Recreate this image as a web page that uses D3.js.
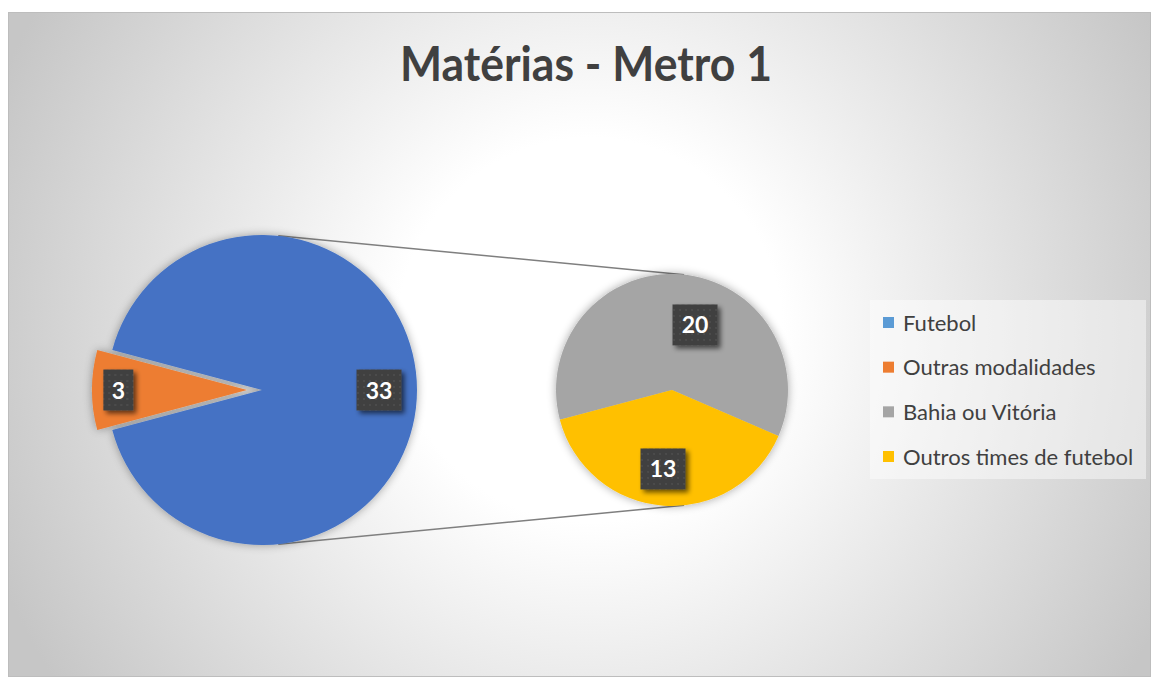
<!DOCTYPE html>
<html lang="pt">
<head>
<meta charset="utf-8">
<title>Matérias - Metro 1</title>
<script src="https://cdn.jsdelivr.net/npm/d3@7"></script>
<style>
  body { margin: 0; background: #fff; }
  text { font-family: Lato, "Open Sans", sans-serif; }
</style>
</head>
<body>
<script>
// dados
var titleText = "Matérias - Metro 1";
var mainCategories = ["Futebol", "Outras modalidades"];
var mainValues = [33, 3];
var subCategories = ["Bahia ou Vitória", "Outros times de futebol"];
var subValues = [20, 13];
var legendLabels = ["Futebol", "Outras modalidades", "Bahia ou Vitória", "Outros times de futebol"];

var width = 1151, height = 677;
var deg = Math.PI / 180;

var mainColors = ["#4472C4", "#ED7D31"];
var subColors = ["#A5A5A5", "#FFC000"];
var legendColors = ["#5B9BD5", "#ED7D31", "#A5A5A5", "#FFC000"];

var svg = d3.select("body").append("svg")
    .attr("width", width)
    .attr("height", height);

var defs = svg.append("defs");

// fundo com gradiente radial
var grad = defs.append("radialGradient")
    .attr("id", "bg")
    .attr("gradientUnits", "userSpaceOnUse")
    .attr("cx", 590).attr("cy", 330).attr("r", 640);
grad.append("stop").attr("offset", "0").attr("stop-color", "#ffffff");
grad.append("stop").attr("offset", "0.3").attr("stop-color", "#ffffff");
grad.append("stop").attr("offset", "1").attr("stop-color", "#c6c6c6");

// sombra suave das pizzas
var glow = defs.append("filter").attr("id", "glow")
    .attr("x", "-20%").attr("y", "-20%").attr("width", "140%").attr("height", "140%");
glow.append("feGaussianBlur").attr("in", "SourceAlpha").attr("stdDeviation", 5).attr("result", "b");
glow.append("feComponentTransfer").attr("in", "b").attr("result", "b2")
    .append("feFuncA").attr("type", "linear").attr("slope", 0.35);
var gm = glow.append("feMerge");
gm.append("feMergeNode").attr("in", "b2");
gm.append("feMergeNode").attr("in", "SourceGraphic");

// sombra dos rótulos
var shadow = defs.append("filter").attr("id", "shadow")
    .attr("x", "-30%").attr("y", "-30%").attr("width", "170%").attr("height", "170%");
shadow.append("feGaussianBlur").attr("in", "SourceAlpha").attr("stdDeviation", 2.5).attr("result", "b");
shadow.append("feOffset").attr("in", "b").attr("dx", 3).attr("dy", 3).attr("result", "o");
shadow.append("feComponentTransfer").attr("in", "o").attr("result", "o2")
    .append("feFuncA").attr("type", "linear").attr("slope", 0.6);
var sm = shadow.append("feMerge");
sm.append("feMergeNode").attr("in", "o2");
sm.append("feMergeNode").attr("in", "SourceGraphic");

// padrão pontilhado dos rótulos
var pat = defs.append("pattern").attr("id", "dots")
    .attr("patternUnits", "userSpaceOnUse").attr("width", 6).attr("height", 6);
pat.append("rect").attr("width", 6).attr("height", 6).attr("fill", "#404040");
pat.append("circle").attr("cx", 3).attr("cy", 3).attr("r", 1.1).attr("fill", "#4e4e4e");

svg.append("rect")
    .attr("x", 8.5).attr("y", 12.5)
    .attr("width", width - 9).attr("height", height - 13)
    .attr("fill", "url(#bg)")
    .attr("stroke", "#bdbdbd");

// título
svg.append("text")
    .attr("x", 586).attr("y", 81)
    .attr("text-anchor", "middle")
    .attr("font-size", 48)
    .attr("font-weight", "bold")
    .attr("fill", "#404040")
    .attr("textLength", 372)
    .attr("lengthAdjust", "spacingAndGlyphs")
    .text(titleText);

// geometria
var main = { cx: 262, cy: 390, r: 155 };
var sub = { cx: 672, cy: 390, r: 116 };
var explode = [0, 15];
var lineAngle = 6 * deg;

var mainPie = d3.pie().sort(null)
    .startAngle(-75 * deg).endAngle(285 * deg);
var subPie = d3.pie().sort(null)
    .startAngle(-104.8 * deg).endAngle(255.2 * deg);

var mainArcs = mainPie(mainValues);
var subArcs = subPie(subValues);

var mainArc = d3.arc().innerRadius(0).outerRadius(main.r);
var subArc = d3.arc().innerRadius(0).outerRadius(sub.r);

function offset(d, dist) {
    var a = (d.startAngle + d.endAngle) / 2;
    return [Math.sin(a) * dist, -Math.cos(a) * dist];
}

// linhas de ligação
var lineG = svg.append("g");
[-1, 1].forEach(function (s) {
    lineG.append("line")
        .attr("x1", main.cx + Math.sin(lineAngle) * main.r)
        .attr("y1", main.cy + s * Math.cos(lineAngle) * main.r)
        .attr("x2", sub.cx + Math.sin(lineAngle) * sub.r)
        .attr("y2", sub.cy + s * Math.cos(lineAngle) * sub.r)
        .attr("stroke", "#7f7f7f")
        .attr("stroke-width", 1.5);
});

var mainG = svg.append("g")
    .attr("transform", "translate(" + main.cx + "," + main.cy + ")")
    .attr("filter", "url(#glow)");
mainG.selectAll("path")
    .data(mainArcs)
    .enter().append("path")
    .attr("transform", function (d, i) { return "translate(" + offset(d, explode[i]) + ")"; })
    .attr("d", mainArc)
    .attr("fill", function (d, i) { return mainColors[i]; });

var subG = svg.append("g")
    .attr("transform", "translate(" + sub.cx + "," + sub.cy + ")")
    .attr("filter", "url(#glow)");
subG.selectAll("path")
    .data(subArcs)
    .enter().append("path")
    .attr("d", subArc)
    .attr("fill", function (d, i) { return subColors[i]; });

// rótulos de dados
var mainLabelR = [0.755, 0.83];
var subLabelPos = [{ r: 0.595, turn: 15.2 }, { r: 0.685, turn: 2.2 }];

function dataLabel(g, x, y, txt) {
    var w = txt.length > 1 ? 45 : 30;
    var lg = g.append("g").attr("transform", "translate(" + x + "," + y + ")");
    lg.append("rect")
        .attr("x", -w / 2).attr("y", -20.5)
        .attr("width", w).attr("height", 41)
        .attr("fill", "url(#dots)")
        .attr("filter", "url(#shadow)");
    lg.append("text")
        .attr("text-anchor", "middle")
        .attr("y", 8.5)
        .attr("font-size", 23)
        .attr("font-weight", "bold")
        .attr("fill", "#ffffff")
        .text(txt);
}

mainArcs.forEach(function (d, i) {
    var e = offset(d, explode[i]);
    var p = offset(d, main.r * mainLabelR[i]);
    dataLabel(svg, main.cx + e[0] + p[0], main.cy + e[1] + p[1], String(d.value));
});
subArcs.forEach(function (d, i) {
    var t = subLabelPos[i].turn * deg;
    var p = offset({ startAngle: d.startAngle + t, endAngle: d.endAngle + t }, sub.r * subLabelPos[i].r);
    dataLabel(svg, sub.cx + p[0], sub.cy + p[1], String(d.value));
});

// legenda
var legend = svg.append("g").attr("transform", "translate(870,300)");
legend.append("rect")
    .attr("width", 276).attr("height", 179)
    .attr("fill", "#ffffff").attr("fill-opacity", 0.45);
var rowY = d3.scalePoint().domain(legendLabels).range([23, 157]);
var items = legend.selectAll(".item")
    .data(legendLabels)
    .enter().append("g")
    .attr("class", "item")
    .attr("transform", function (d) { return "translate(13," + rowY(d) + ")"; });
items.append("rect")
    .attr("x", 0).attr("y", -6)
    .attr("width", 11).attr("height", 11)
    .attr("fill", function (d, i) { return legendColors[i]; });
items.append("text")
    .attr("x", 20).attr("y", 7.5)
    .attr("font-size", 22)
    .attr("fill", "#404040")
    .text(function (d) { return d; });
</script>
</body>
</html>
